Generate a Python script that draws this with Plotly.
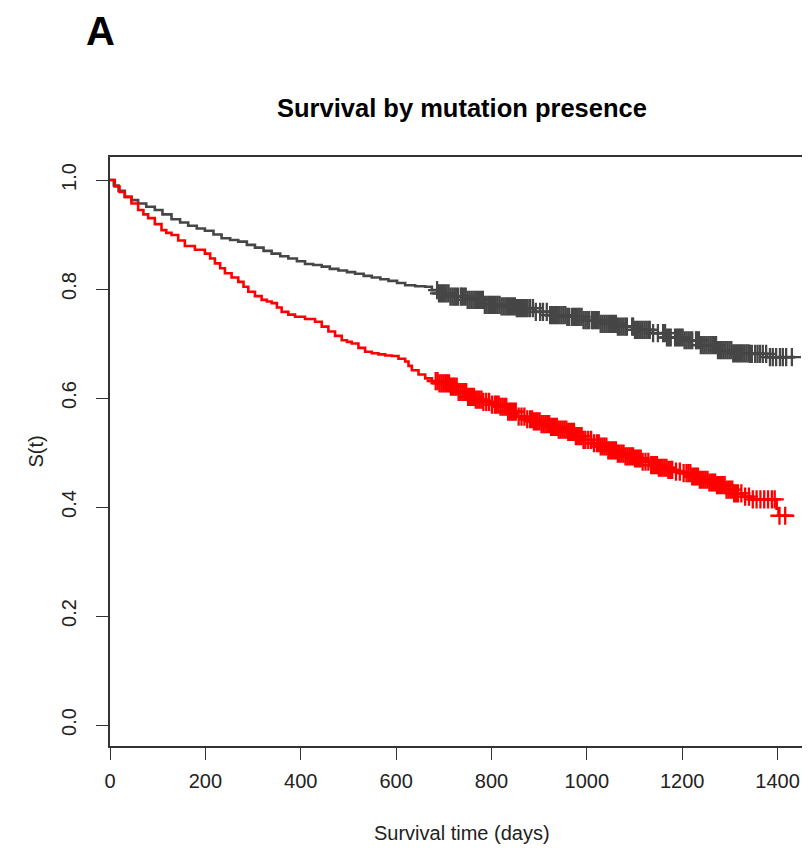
import numpy as np
import plotly.graph_objects as go

# ---- data ----
grey_t = [0, 8, 18, 31, 45, 59, 76, 94, 110, 129, 147, 164, 182, 199, 217, 234, 252, 269, 287, 304,
          322, 339, 357, 374, 392, 409, 426, 444, 461, 479, 497, 514, 532, 549, 567, 584, 602, 619,
          640, 661, 675, 689, 713, 748, 783, 818, 853, 888, 923, 958, 993, 1028, 1063, 1098, 1133,
          1168, 1202, 1237, 1272, 1307, 1342, 1377, 1437]
grey_s = [1.0, 0.99, 0.98, 0.969, 0.963, 0.957, 0.951, 0.945, 0.937, 0.928, 0.922, 0.916, 0.911, 0.907,
          0.900, 0.893, 0.890, 0.887, 0.881, 0.876, 0.870, 0.865, 0.860, 0.856, 0.851, 0.846, 0.844,
          0.841, 0.837, 0.834, 0.831, 0.828, 0.824, 0.821, 0.818, 0.815, 0.811, 0.807, 0.805, 0.804,
          0.798, 0.792, 0.786, 0.780, 0.771, 0.768, 0.765, 0.758, 0.752, 0.749, 0.743, 0.736, 0.731,
          0.725, 0.719, 0.711, 0.706, 0.697, 0.688, 0.682, 0.681, 0.675, 0.675]

red_t = [0, 10, 20, 31, 45, 59, 70, 80, 94, 108, 118, 129, 143, 157, 178, 199, 210, 220, 231, 241,
         255, 269, 280, 290, 304, 318, 329, 339, 350, 360, 374, 388, 409, 430, 444, 458, 472, 486,
         497, 507, 521, 535, 549, 563, 577, 591, 605, 619, 626, 633, 647, 661, 675, 689, 713, 730,
         748, 765, 783, 800, 818, 835, 853, 870, 888, 905, 923, 940, 958, 975, 993, 1010, 1028, 1045,
         1063, 1080, 1098, 1115, 1133, 1150, 1168, 1185, 1202, 1220, 1237, 1255, 1272, 1290, 1307,
         1325, 1342, 1398, 1402, 1432]
red_s = [1.0, 0.988, 0.978, 0.969, 0.957, 0.945, 0.937, 0.930, 0.919, 0.908, 0.903, 0.899, 0.889,
         0.879, 0.872, 0.865, 0.856, 0.847, 0.838, 0.829, 0.821, 0.813, 0.804, 0.795, 0.787, 0.780,
         0.777, 0.774, 0.766, 0.758, 0.753, 0.749, 0.745, 0.740, 0.731, 0.722, 0.714, 0.706, 0.703,
         0.700, 0.692, 0.685, 0.682, 0.680, 0.678, 0.677, 0.672, 0.667, 0.659, 0.651, 0.643, 0.636,
         0.631, 0.627, 0.621, 0.611, 0.602, 0.597, 0.593, 0.588, 0.584, 0.575, 0.566, 0.561, 0.557,
         0.552, 0.547, 0.542, 0.538, 0.530, 0.523, 0.517, 0.511, 0.504, 0.498, 0.493, 0.489, 0.483,
         0.477, 0.472, 0.468, 0.465, 0.462, 0.456, 0.450, 0.445, 0.440, 0.432, 0.425, 0.419, 0.414,
         0.397, 0.384, 0.384]

grey_censor = [686, 690, 694, 698, 702, 706, 710, 714, 718, 722, 726, 730, 736,
               738, 742, 746, 750, 754, 758, 762, 766, 770, 774, 778, 782, 786, 790, 794, 797,
               801, 805, 809, 813, 817, 821, 825, 829, 833, 837, 841, 845, 849, 853, 856, 860,
               864, 868, 872, 876, 881, 887, 893, 902, 908, 916,
               923, 927, 931, 935, 939, 943, 947, 951, 955, 959, 963,
               969, 973, 977, 981, 985, 989, 993, 997, 1001, 1005, 1011,
               1013, 1017, 1021, 1025, 1029, 1033, 1037, 1041, 1045, 1049, 1053, 1057, 1061, 1065,
               1069, 1073, 1077, 1081, 1084, 1095,
               1097, 1101, 1105, 1109, 1113, 1117, 1121, 1125, 1129, 1132, 1139, 1149, 1160,
               1164, 1168, 1172, 1176, 1185, 1189, 1193, 1197, 1201, 1205, 1209, 1213, 1217, 1221, 1229,
               1231, 1235, 1239, 1243, 1247, 1251, 1255, 1259, 1263, 1267, 1271, 1275, 1279, 1283,
               1287, 1291, 1295, 1299, 1303, 1307, 1311, 1315, 1319, 1323, 1327, 1331, 1335, 1339, 1342,
               1346, 1353, 1358, 1363, 1369, 1376, 1384, 1390, 1397, 1405, 1411, 1418, 1430]

red_censor = [683, 687, 691, 695, 699, 703, 707, 711, 715, 719, 723, 727, 731, 735, 739, 743, 747,
              751, 755, 759, 763, 767, 771, 775, 779, 783, 789, 795, 801, 807,
              811, 815, 819, 823, 827, 831, 835, 839, 843, 847, 851, 857, 863, 869, 875, 881,
              885, 889, 893, 897, 901, 905, 909, 913, 917, 921, 925, 929, 933, 937, 941, 945, 949,
              953, 957, 961, 965, 969, 973, 977, 981, 985, 989, 993, 997, 1003, 1009, 1015, 1021,
              1025, 1029, 1033, 1037, 1041, 1045, 1049, 1053, 1057, 1061, 1065, 1069, 1073, 1077,
              1081, 1085, 1089, 1093, 1097, 1101, 1105, 1109, 1113, 1117, 1123, 1129, 1135,
              1139, 1143, 1147, 1151, 1155, 1159, 1163, 1167, 1171, 1175, 1179, 1187, 1195, 1203,
              1209, 1213, 1217, 1221, 1225, 1229, 1233, 1237, 1241, 1245, 1249, 1253, 1257, 1261,
              1265, 1269, 1273, 1277, 1281, 1285, 1289, 1293, 1297, 1301, 1305, 1309, 1313, 1317,
              1324, 1332, 1340, 1348, 1356, 1364, 1372, 1380, 1388, 1394, 1404, 1416]

x_ticks = [0, 200, 400, 600, 800, 1000, 1200, 1400]
y_ticks = [0.0, 0.2, 0.4, 0.6, 0.8, 1.0]

GREY = "#464646"
RED = "#FF0000"
AXC = "#333333"
FONT = "Liberation Sans, Arial, sans-serif"


def step_at(ts, ss, cs):
    ts = np.asarray(ts)
    ss = np.asarray(ss)
    idx = np.searchsorted(ts, np.asarray(cs), side="right") - 1
    return ss[idx]


fig = go.Figure()
for t, s, c, col in [(grey_t, grey_s, grey_censor, GREY), (red_t, red_s, red_censor, RED)]:
    fig.add_trace(go.Scatter(x=t, y=s, mode="lines", line=dict(color=col, width=2.6, shape="hv"),
                             showlegend=False, hoverinfo="skip"))
    fig.add_trace(go.Scatter(x=c, y=step_at(t, s, c), mode="markers",
                             marker=dict(symbol="cross-thin", size=13, line=dict(color=col, width=2.3)),
                             showlegend=False, hoverinfo="skip"))

# the page body has an 8px margin, so the figure is 8px smaller and offsets are reduced by 8
fig.update_layout(
    width=802, height=843,
    margin=dict(l=102, r=0, t=149, b=105),
    paper_bgcolor="white", plot_bgcolor="white",
    font=dict(family=FONT, size=20, color="#222222"),
    xaxis=dict(range=[0, 1468], tickvals=x_ticks, ticktext=[str(v) for v in x_ticks],
               showgrid=False, zeroline=False, showline=True, linecolor=AXC, linewidth=1.5,
               mirror=True, ticks="outside", ticklen=12, tickwidth=1.3, tickcolor=AXC,
               ticklabelstandoff=4, tickfont=dict(size=20, family=FONT, color="#222222")),
    yaxis=dict(range=[-0.0385, 1.0422], tickvals=y_ticks, ticktext=[f"{v:.1f}" for v in y_ticks],
               showgrid=False, zeroline=False, showline=True, linecolor=AXC, linewidth=1.5,
               ticks="outside", ticklen=12, tickwidth=1.3, tickcolor=AXC, tickangle=-90,
               ticklabelstandoff=12, tickfont=dict(size=20, family=FONT, color="#222222")),
    annotations=[
        dict(text="<b>Survival by mutation presence</b>", xref="paper", yref="paper",
             x=0.503, y=1.083, xanchor="center", yanchor="middle", showarrow=False,
             font=dict(size=25.5, family=FONT, color="#000000")),
        dict(text="<b>A</b>", xref="paper", yref="paper", x=-0.014, y=1.214,
             xanchor="center", yanchor="middle", showarrow=False,
             font=dict(size=40, family=FONT, color="#000000")),
        dict(text="Survival time (days)", xref="paper", yref="paper", x=0.503, y=-0.148,
             xanchor="center", yanchor="middle", showarrow=False,
             font=dict(size=20, family=FONT, color="#222222")),
        dict(text="S(t)", xref="paper", yref="paper", x=-0.107, y=0.5, textangle=-90,
             xanchor="center", yanchor="middle", showarrow=False,
             font=dict(size=20, family=FONT, color="#222222")),
    ],
)

fig.write_html("out.html")
